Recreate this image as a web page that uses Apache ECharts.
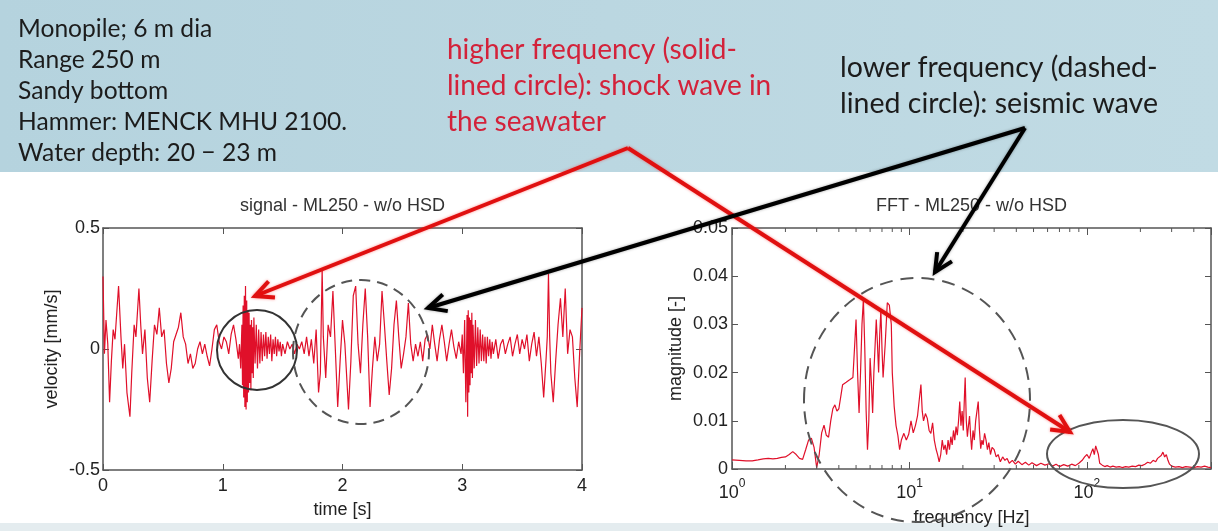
<!DOCTYPE html>
<html>
<head>
<meta charset="utf-8">
<script src="https://cdn.jsdelivr.net/npm/echarts@6/dist/echarts.min.js"></script>
<style>
  html, body { margin: 0; padding: 0; background: #fff; }
  #chart { width: 1218px; height: 531px; }
</style>
</head>
<body>
<div id="chart"></div>
<script>
// velocity signal (time in s, velocity in mm/s)
const signalTime = [
  0.00, 0.012, 0.025, 0.04, 0.055, 0.07, 0.085, 0.10, 0.13, 0.15, 0.165, 0.18, 0.20, 0.225, 0.24, 0.26,
  0.275, 0.30, 0.315, 0.33, 0.35, 0.37, 0.39, 0.41, 0.43, 0.45, 0.47, 0.49, 0.51, 0.53, 0.55, 0.57,
  0.59, 0.61, 0.63, 0.65, 0.67, 0.69, 0.71, 0.73, 0.75, 0.77, 0.79, 0.81, 0.83, 0.85, 0.87, 0.89,
  0.91, 0.93, 0.95, 0.97, 0.99, 1.01, 1.03, 1.05, 1.07, 1.09, 1.11, 1.13, 1.14,
  1.15, 1.16, 1.165, 1.17, 1.175, 1.18, 1.185, 1.19, 1.195, 1.20, 1.205, 1.21, 1.215, 1.22, 1.225, 1.23,
  1.235, 1.24, 1.245, 1.25, 1.255, 1.26, 1.27, 1.28, 1.29, 1.30, 1.31, 1.32, 1.33, 1.34, 1.35, 1.36,
  1.37, 1.38, 1.39, 1.40, 1.41, 1.42, 1.43, 1.44, 1.45, 1.46, 1.47, 1.48, 1.49, 1.50, 1.52, 1.54,
  1.56, 1.58, 1.60, 1.62, 1.64, 1.66, 1.68, 1.70, 1.72, 1.74, 1.76, 1.78, 1.80, 1.815, 1.83, 1.84,
  1.86, 1.88, 1.90, 1.92, 1.94, 1.96, 1.98, 2.00, 2.02, 2.05, 2.07, 2.09, 2.11, 2.13, 2.15, 2.17,
  2.19, 2.21, 2.23, 2.25, 2.27, 2.29, 2.31, 2.33, 2.35, 2.37, 2.39, 2.41, 2.43, 2.45, 2.47, 2.49,
  2.51, 2.53, 2.55, 2.57, 2.59, 2.61, 2.63, 2.65, 2.67, 2.69, 2.71, 2.73, 2.75, 2.77, 2.79, 2.81,
  2.83, 2.85, 2.87, 2.89, 2.91, 2.93, 2.95, 2.97, 2.99, 3.00,
  3.01, 3.02, 3.03, 3.04, 3.045, 3.05, 3.055, 3.06, 3.065, 3.07, 3.075, 3.08, 3.085, 3.09, 3.10, 3.11,
  3.12, 3.13, 3.14, 3.15, 3.16, 3.17, 3.18, 3.19, 3.20, 3.21, 3.22, 3.23, 3.24, 3.25, 3.26, 3.28,
  3.30, 3.32, 3.34, 3.36, 3.38, 3.40, 3.42, 3.44, 3.46, 3.48, 3.50, 3.52, 3.54, 3.56, 3.58, 3.60,
  3.62, 3.64, 3.66, 3.68, 3.70, 3.71, 3.72, 3.73, 3.74, 3.76, 3.78, 3.80, 3.82, 3.84, 3.86, 3.88,
  3.90, 3.92, 3.94, 3.96, 3.98, 4.00
];
const signalVel = [
  0.30, -0.02, 0.12, 0.02, -0.22, -0.05, 0.08, 0.04, 0.26, 0.05, -0.08, 0.02, -0.18, -0.28, -0.10, 0.10,
  0.05, 0.25, 0.10, -0.02, 0.08, -0.12, -0.22, -0.05, 0.10, 0.06, 0.17, 0.05, 0.08, -0.06, -0.14, -0.08,
  0.03, 0.06, 0.09, 0.15, 0.05, 0.02, -0.06, -0.02, -0.08, -0.06, 0.00, 0.03, -0.02, 0.02, -0.03, -0.07,
  0.00, 0.08, 0.10, 0.03, 0.00, 0.05, 0.03, -0.02, 0.06, 0.10, 0.04, -0.04, 0.02,
  -0.08, 0.10, -0.15, 0.18, -0.20, 0.22, -0.24, 0.26, -0.25, 0.20, -0.22, 0.16, -0.18, 0.15, -0.14, 0.10,
  -0.17, 0.12, -0.10, 0.09, -0.12, 0.13, -0.06, 0.10, -0.08, 0.08, -0.06, 0.07, -0.05, 0.06, -0.03, 0.07,
  -0.04, 0.05, -0.02, 0.06, -0.05, 0.04, -0.02, 0.05, -0.03, 0.04, -0.01, 0.03, -0.03, 0.02, -0.02, 0.03,
  0.00, 0.02, -0.02, 0.02, 0.00, 0.03, -0.02, 0.05, -0.03, 0.04, -0.06, 0.08, -0.18, -0.10, 0.33, 0.05,
  -0.12, 0.10, 0.05, 0.24, 0.00, -0.24, -0.05, 0.12, 0.02, -0.25, -0.05, 0.22, 0.26, 0.02, -0.10, 0.10,
  0.25, 0.05, -0.24, -0.08, 0.05, -0.05, 0.02, 0.24, 0.10, -0.05, -0.19, -0.08, 0.10, 0.20, 0.05, -0.08,
  -0.02, 0.05, 0.19, 0.02, -0.05, 0.02, -0.03, 0.03, -0.05, 0.04, 0.06, 0.00, 0.10, 0.02, -0.05, 0.04,
  0.10, 0.03, -0.05, 0.02, 0.08, 0.01, -0.04, 0.03, -0.02, 0.06,
  -0.10, 0.12, -0.22, 0.14, -0.28, 0.16, -0.18, 0.13, -0.15, 0.12, -0.10, 0.15, -0.12, 0.10, -0.08, 0.12,
  -0.07, 0.09, -0.06, 0.08, -0.05, 0.06, -0.05, 0.05, -0.06, 0.05, -0.03, 0.04, -0.04, 0.03, -0.02, 0.04,
  -0.04, 0.02, 0.04, -0.02, 0.02, 0.05, -0.03, 0.02, 0.06, -0.02, 0.04, 0.00, 0.06, -0.05, 0.02, 0.07,
  -0.03, 0.05, -0.06, -0.20, -0.04, 0.05, 0.31, 0.05, -0.10, -0.22, -0.05, 0.10, 0.21, 0.05, 0.25, -0.02,
  0.08, 0.05, -0.12, -0.24, -0.02, 0.17
];

// FFT magnitude (frequency in Hz)
const fftFreq = [
  1.0, 1.1, 1.2, 1.3, 1.4, 1.5, 1.6, 1.7, 1.8, 1.9, 2.0, 2.1, 2.2, 2.3, 2.4, 2.5,
  2.6, 2.7, 2.8, 2.9, 3.0, 3.1, 3.2, 3.3, 3.4, 3.5, 3.6, 3.7, 3.8, 3.9, 4.0, 4.1,
  4.2, 4.4, 4.6, 4.8, 4.9, 5.0, 5.1, 5.2, 5.3, 5.4, 5.5, 5.6, 5.7, 5.8, 5.9, 6.0,
  6.1, 6.2, 6.3, 6.5, 6.6, 6.7, 6.8, 6.9, 7.0, 7.1, 7.3, 7.5, 7.7, 7.9, 8.0, 8.2,
  8.4, 8.6, 8.8, 9.0, 9.3, 9.6, 9.9, 10.2, 10.5, 10.8, 11.1, 11.4, 11.6, 11.8, 12.0, 12.3,
  12.6, 12.9, 13.2, 13.5, 13.8, 14.1, 14.4, 14.7, 15.0, 15.3, 15.6, 15.9, 16.2, 16.5, 16.8, 17.1,
  17.4, 17.7, 18.0, 18.3, 18.6, 18.9, 19.2, 19.5, 19.8, 20.1, 20.4, 20.6, 20.9, 21.2, 21.5, 21.8,
  22.1, 22.4, 22.8, 23.2, 23.6, 24.0, 24.4, 24.8, 25.2, 25.6, 26.0, 26.5, 27.0, 27.5, 28.0, 28.6,
  29.2, 30.0, 30.8, 31.6, 32.5, 33.5, 34.5, 35.5, 36.5, 38, 39.5, 41, 43, 45, 47, 49,
  52, 55, 58, 61, 64, 67, 70, 74, 78, 82, 86, 90, 94, 97, 100, 103,
  106, 108, 110, 112, 114, 116, 118, 122, 126, 130, 135, 140, 146, 152, 158, 165,
  172, 180, 188, 196, 204, 212, 220, 228, 236, 244, 250, 256, 262, 268, 274, 280,
  286, 292, 300, 315, 330, 345, 360, 380, 400, 420, 440, 460, 480, 500
];
const fftMag = [
  0.0019, 0.0018, 0.0017, 0.0017, 0.0019, 0.0021, 0.0022, 0.0021, 0.0022, 0.0024, 0.0025, 0.0030, 0.0036, 0.0030, 0.0022, 0.0020,
  0.0040, 0.0060, 0.0064, 0.0045, 0.0003, 0.0030, 0.0075, 0.0091, 0.0070, 0.0066, 0.0100, 0.0125, 0.0133, 0.0120, 0.0125, 0.0150,
  0.0175, 0.0180, 0.0185, 0.0190, 0.0250, 0.0310, 0.0200, 0.0116, 0.0200, 0.0300, 0.0352, 0.0250, 0.0120, 0.0040, 0.0100, 0.0230,
  0.0180, 0.0116, 0.0200, 0.0310, 0.0260, 0.0200, 0.0280, 0.0330, 0.0250, 0.0190, 0.0260, 0.0345, 0.0340, 0.0300, 0.0200, 0.0130,
  0.0090, 0.0070, 0.0040, 0.0060, 0.0074, 0.0060, 0.0072, 0.0100, 0.0075, 0.0090, 0.0110, 0.0150, 0.0175, 0.0120, 0.0100, 0.0115,
  0.0105, 0.0080, 0.0074, 0.0096, 0.0060, 0.0042, 0.0030, 0.0015, 0.0030, 0.0060, 0.0040, 0.0050, 0.0030, 0.0060, 0.0040, 0.0067,
  0.0050, 0.0080, 0.0060, 0.0088, 0.0070, 0.0100, 0.0140, 0.0090, 0.0120, 0.0080, 0.0150, 0.0190, 0.0100, 0.0067, 0.0090, 0.0110,
  0.0070, 0.0040, 0.0080, 0.0060, 0.0100, 0.0120, 0.0140, 0.0080, 0.0042, 0.0060, 0.0050, 0.0074, 0.0060, 0.0040, 0.0055, 0.0030,
  0.0045, 0.0040, 0.0025, 0.0030, 0.0015, 0.0025, 0.0018, 0.0022, 0.0012, 0.0018, 0.0010, 0.0016, 0.0009, 0.0014, 0.0008, 0.0013,
  0.0007, 0.0012, 0.0008, 0.0011, 0.0006, 0.0010, 0.0005, 0.0009, 0.0006, 0.0010, 0.0007, 0.0012, 0.0018, 0.0025, 0.0030, 0.0022,
  0.0035, 0.0042, 0.0030, 0.0048, 0.0050, 0.0030, 0.0012, 0.0008, 0.0005, 0.0007, 0.0004, 0.0006, 0.0004, 0.0005, 0.0003, 0.0005,
  0.0004, 0.0006, 0.0005, 0.0008, 0.0007, 0.0010, 0.0014, 0.0012, 0.0018, 0.0015, 0.0022, 0.0020, 0.0028, 0.0035, 0.0025, 0.0030,
  0.0018, 0.0010, 0.0006, 0.0004, 0.0005, 0.0003, 0.0005, 0.0004, 0.0003, 0.0005, 0.0004, 0.0006, 0.0004, 0.0003
];
const minorFreqTicks = [2, 3, 4, 5, 6, 7, 8, 9, 20, 30, 40, 50, 60, 70, 80, 90, 200, 300, 400];

const notes = ['Monopile; 6 m dia', 'Range 250 m', 'Sandy bottom', 'Hammer: MENCK MHU 2100.', 'Water depth: 20 \u2212 23 m'];
const redNote = ['higher frequency (solid-', 'lined circle): shock wave in', 'the seawater'];
const blackNote = ['lower frequency (dashed-', 'lined circle): seismic wave'];

const chart = echarts.init(document.getElementById('chart'), null, { renderer: 'canvas' });

const axisFont = { fontFamily: 'Liberation Sans, Arial, sans-serif', fontSize: 18, color: '#222' };
const boxLine = { show: true, onZero: false, lineStyle: { color: '#555', width: 1.5 } };
const tickIn = (len) => ({ show: true, inside: true, length: len, lineStyle: { color: '#555', width: 1 } });

function powLabel(v) {
  const e = Math.log10(v);
  if (Math.abs(e - Math.round(e)) > 1e-6) return '';
  return '{b|10}{s|' + Math.round(e) + '}';
}

chart.setOption({
  animation: false,
  backgroundColor: '#fff',
  grid: [
    { left: 103, right: 636, top: 228, bottom: 61 },
    { left: 732, right: 7, top: 228, bottom: 62 }
  ],
  xAxis: [
    {
      gridIndex: 0, type: 'value', min: 0, max: 4, interval: 1,
      name: 'time [s]', nameLocation: 'middle', nameGap: 31, nameTextStyle: axisFont,
      axisLine: boxLine, axisTick: tickIn(6), splitLine: { show: false },
      axisLabel: Object.assign({ margin: 7 }, axisFont)
    },
    {
      gridIndex: 0, type: 'value', min: 0, max: 4, interval: 1, position: 'top',
      axisLine: boxLine, axisTick: tickIn(6), splitLine: { show: false }, axisLabel: { show: false }
    },
    {
      gridIndex: 1, type: 'log', logBase: 10, min: 1, max: 500,
      name: 'frequency [Hz]', nameLocation: 'middle', nameGap: 40, nameTextStyle: axisFont,
      axisLine: boxLine, axisTick: tickIn(7), splitLine: { show: false },
      axisLabel: {
        margin: 9, formatter: powLabel,
        rich: {
          b: Object.assign({ lineHeight: 24, verticalAlign: 'bottom' }, axisFont),
          s: { fontFamily: axisFont.fontFamily, fontSize: 12, color: '#222', lineHeight: 24, verticalAlign: 'top' }
        }
      }
    },
    {
      gridIndex: 1, type: 'log', logBase: 10, min: 1, max: 500, position: 'top',
      axisLine: boxLine, axisTick: tickIn(7), splitLine: { show: false }, axisLabel: { show: false }
    }
  ],
  yAxis: [
    {
      gridIndex: 0, type: 'value', min: -0.5, max: 0.5, interval: 0.5,
      name: 'velocity [mm/s]', nameLocation: 'middle', nameGap: 42, nameRotate: 90, nameTextStyle: axisFont,
      axisLine: boxLine, axisTick: tickIn(6), splitLine: { show: false },
      axisLabel: Object.assign({ margin: 3 }, axisFont)
    },
    {
      gridIndex: 0, type: 'value', min: -0.5, max: 0.5, interval: 0.5, position: 'right',
      axisLine: boxLine, axisTick: tickIn(6), splitLine: { show: false }, axisLabel: { show: false }
    },
    {
      gridIndex: 1, type: 'value', min: 0, max: 0.05, interval: 0.01,
      name: 'magnitude [-]', nameLocation: 'middle', nameGap: 47, nameRotate: 90, nameTextStyle: axisFont,
      axisLine: boxLine, axisTick: tickIn(6), splitLine: { show: false },
      axisLabel: Object.assign({ margin: 4 }, axisFont)
    },
    {
      gridIndex: 1, type: 'value', min: 0, max: 0.05, interval: 0.01, position: 'right',
      axisLine: boxLine, axisTick: tickIn(6), splitLine: { show: false }, axisLabel: { show: false }
    }
  ],
  series: [
    {
      type: 'line', xAxisIndex: 0, yAxisIndex: 0, showSymbol: false, symbol: 'none',
      data: signalTime.map((t, i) => [t, signalVel[i]]),
      lineStyle: { color: '#e0102a', width: 1.2 }
    },
    {
      type: 'line', xAxisIndex: 2, yAxisIndex: 2, showSymbol: false, symbol: 'none',
      data: fftFreq.map((f, i) => [f, fftMag[i]]),
      lineStyle: { color: '#e0102a', width: 1.2 }
    }
  ]
});

// annotation layer
function arrow(from, to, color, width) {
  const a = Math.atan2(to[1] - from[1], to[0] - from[0]);
  const len = 20, spread = 0.45;
  const p1 = [to[0] - len * Math.cos(a - spread), to[1] - len * Math.sin(a - spread)];
  const p2 = [to[0] - len * Math.cos(a + spread), to[1] - len * Math.sin(a + spread)];
  const style = { stroke: color, lineWidth: width, fill: null, lineJoin: 'miter', shadowBlur: 3, shadowColor: color === '#000' ? 'rgba(0,0,0,0.35)' : 'rgba(255,0,0,0.45)' };
  return [
    { type: 'polyline', z: 100, shape: { points: [from, to] }, style },
    { type: 'polyline', z: 100, shape: { points: [p1, to, p2] }, style }
  ];
}

const fftBottom = chart.convertToPixel({ yAxisIndex: 2 }, 0);
const fftTop = chart.convertToPixel({ yAxisIndex: 2 }, 0.05);
const minorTicks = [];
minorFreqTicks.forEach((f) => {
  const x = chart.convertToPixel({ xAxisIndex: 2 }, f);
  minorTicks.push({ type: 'line', z: 10, shape: { x1: x, y1: fftBottom, x2: x, y2: fftBottom - 4 }, style: { stroke: '#555', lineWidth: 1 } });
  minorTicks.push({ type: 'line', z: 10, shape: { x1: x, y1: fftTop, x2: x, y2: fftTop + 4 }, style: { stroke: '#555', lineWidth: 1 } });
});

const textFont = 'Lato, "Open Sans", sans-serif';
const redApex = [628, 148];
const blackApex = [1025, 128];

chart.setOption({
  graphic: [
    {
      type: 'rect', z: -10, silent: true, shape: { x: 0, y: 0, width: 1218, height: 172 },
      style: { fill: new echarts.graphic.LinearGradient(0, 0, 1, 0, [{ offset: 0, color: '#b5d3de' }, { offset: 1, color: '#c1dbe4' }]) }
    },
    { type: 'rect', z: -10, silent: true, shape: { x: 0, y: 523, width: 1218, height: 8 }, style: { fill: '#e4ecef' } },
    {
      type: 'text', z: 50, x: 18, y: 14,
      style: { text: notes.join('\n'), font: '24.6px ' + textFont, fill: '#1c1c1c', lineHeight: 31 }
    },
    {
      type: 'text', z: 50, x: 447, y: 32,
      style: { text: redNote.join('\n'), font: '28px ' + textFont, fill: '#d3223a', lineHeight: 36 }
    },
    {
      type: 'text', z: 50, x: 840, y: 50,
      style: { text: blackNote.join('\n'), font: '28.5px ' + textFont, fill: '#1c1c1c', lineHeight: 36 }
    },
    {
      type: 'text', z: 50, x: 342.5, y: 206,
      style: { text: 'signal - ML250 - w/o HSD', font: '18px Liberation Sans, Arial, sans-serif', fill: '#333', align: 'center', verticalAlign: 'middle' }
    },
    {
      type: 'text', z: 50, x: 971.5, y: 206,
      style: { text: 'FFT - ML250 - w/o HSD', font: '18px Liberation Sans, Arial, sans-serif', fill: '#333', align: 'center', verticalAlign: 'middle' }
    },
    // solid circle: shock wave burst in the time signal
    { type: 'circle', z: 60, shape: { cx: 257, cy: 350, r: 40 }, style: { fill: null, stroke: '#333', lineWidth: 2 } },
    // dashed circle: seismic part in the time signal
    { type: 'ellipse', z: 60, shape: { cx: 361, cy: 352, rx: 68, ry: 72 }, style: { fill: null, stroke: '#555', lineWidth: 2, lineDash: [11, 7] } },
    // dashed circle on the FFT
    { type: 'ellipse', z: 60, shape: { cx: 917, cy: 400, rx: 113, ry: 122 }, style: { fill: null, stroke: '#555', lineWidth: 2, lineDash: [13, 8] } },
    // solid ellipse on the FFT high frequencies
    { type: 'ellipse', z: 60, shape: { cx: 1123, cy: 454, rx: 76, ry: 34 }, style: { fill: null, stroke: '#555', lineWidth: 2 } },
    ...arrow(redApex, [255, 296], '#e01010', 4),
    ...arrow(redApex, [1070, 432], '#e01010', 4),
    ...arrow(blackApex, [428, 308], '#000', 4),
    ...arrow(blackApex, [935, 272], '#000', 4),
    ...minorTicks
  ]
});
</script>
</body>
</html>
